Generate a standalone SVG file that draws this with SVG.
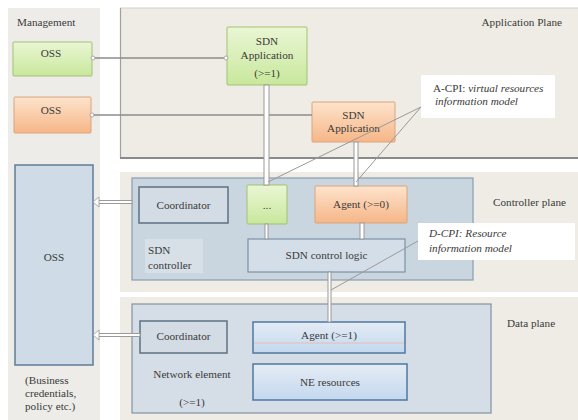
<svg xmlns="http://www.w3.org/2000/svg" width="578" height="420" viewBox="0 0 578 420">
  <style>
    text { font-family: "Liberation Serif", "Times New Roman", serif; font-size: 11.2px; fill: #3a3a3a; }
    .mid { text-anchor: middle; }
    .it { font-style: italic; }
    .panel { fill: #eeece5; }
    .green { fill: url(#gGreen); stroke: #a3c172; stroke-width: 1; }
    .orange { fill: url(#gOrange); stroke: #dca47a; stroke-width: 1; }
    .blue { fill: url(#gBlue); stroke: #4f78a0; stroke-width: 1.5; }
    .grey { fill: #d3dce4; stroke: #5d7284; stroke-width: 1.5; }
    .container { fill: #c9d5df; stroke: #8a9dae; stroke-width: 1.2; }
    .note { fill: #ffffff; }
    .wire { stroke: #8c8c8c; stroke-width: 1.5; fill: none; }
    .pipe { fill: #ffffff; stroke: #9a9a9a; stroke-width: 1; }
    .leader { stroke: #9a9a9a; stroke-width: 1; fill: none; }
    .end { fill: #ffffff; stroke: #9a9a9a; stroke-width: 0.8; }
  </style>
  <defs>
    <linearGradient id="gGreen" x1="0" y1="0" x2="0" y2="1">
      <stop offset="0" stop-color="#eaf6d4"/>
      <stop offset="1" stop-color="#c8e89c"/>
    </linearGradient>
    <linearGradient id="gOrange" x1="0" y1="0" x2="0" y2="1">
      <stop offset="0" stop-color="#fde3cc"/>
      <stop offset="1" stop-color="#f6b688"/>
    </linearGradient>
    <linearGradient id="gBlue" x1="0" y1="0" x2="0" y2="1">
      <stop offset="0" stop-color="#e4ecf5"/>
      <stop offset="1" stop-color="#c4d8ee"/>
    </linearGradient>
  </defs>

  <rect width="578" height="420" fill="#ffffff"/>

  <!-- planes -->
  <g id="management-plane">
    <rect x="8" y="8" width="92" height="412" fill="#edece8"/>
    <text x="17" y="26">Management</text>
  </g>
  <g id="application-plane">
    <rect class="panel" x="120" y="8" width="458" height="150"/>
    <line x1="120" y1="8" x2="578" y2="8" stroke="#d0cec6" stroke-width="1"/>
    <line x1="120.5" y1="8" x2="120.5" y2="158" stroke="#a0a0a0" stroke-width="1.2"/>
    <line x1="120" y1="158" x2="578" y2="158" stroke="#8a8a8a" stroke-width="1.8"/>
    <text x="562" y="26" text-anchor="end">Application Plane</text>
  </g>
  <g id="controller-plane">
    <rect class="panel" x="120" y="172" width="458" height="120"/>
    <text x="566" y="206" text-anchor="end">Controller plane</text>
  </g>
  <g id="data-plane">
    <rect class="panel" x="120" y="297" width="458" height="123"/>
    <text x="507" y="327">Data plane</text>
  </g>

  <!-- management -->
  <g id="oss-green">
    <rect class="green" x="13" y="42" width="79" height="34" rx="1"/>
    <text class="mid" x="51" y="57">OSS</text>
  </g>
  <g id="oss-orange">
    <rect class="orange" x="14" y="97" width="77" height="36" rx="1"/>
    <text class="mid" x="51" y="114">OSS</text>
  </g>
  <g id="oss-main">
    <rect x="15" y="165" width="78" height="200" fill="#cfdbe6" stroke="#5f7d97" stroke-width="1.5"/>
    <text class="mid" x="54" y="261">OSS</text>
  </g>
  <g id="business-note">
    <text x="25" y="384">(Business</text>
    <text x="25" y="397">credentials,</text>
    <text x="25" y="410">policy etc.)</text>
  </g>

  <!-- application plane -->
  <g id="sdn-app-green">
    <rect class="green" x="227" y="27" width="80" height="58" rx="1"/>
    <text class="mid" x="267" y="45">SDN</text>
    <text class="mid" x="267" y="59">Application</text>
    <text class="mid" x="267" y="77">(&gt;=1)</text>
  </g>
  <g id="sdn-app-orange">
    <rect class="orange" x="312" y="102" width="83" height="40" rx="1"/>
    <text class="mid" x="353.5" y="119">SDN</text>
    <text class="mid" x="353.5" y="132">Application</text>
  </g>
  <g id="a-cpi-note">
    <rect class="note" x="421" y="75" width="134" height="43"/>
    <text x="433" y="92">A-CPI: <tspan class="it">virtual resources</tspan></text>
    <text class="it" x="435" y="105">information model</text>
  </g>

  <!-- controller plane -->
  <g id="sdn-controller">
    <rect class="container" x="132" y="178" width="341" height="102"/>
    <rect x="145" y="239" width="58" height="34" fill="#d7dfe7"/>
    <text x="148" y="254">SDN</text>
    <text x="148" y="269">controller</text>
  </g>
  <g id="coordinator-ctrl">
    <rect class="grey" x="139" y="187" width="89" height="36"/>
    <text class="mid" x="183.5" y="209">Coordinator</text>
  </g>
  <g id="agent-green">
    <rect class="green" x="247" y="185" width="40" height="39" rx="1"/>
    <text class="mid" x="267" y="209">...</text>
  </g>
  <g id="agent-orange">
    <rect class="orange" x="315" y="186" width="92" height="37" rx="1"/>
    <text class="mid" x="361" y="208">Agent (&gt;=0)</text>
  </g>
  <g id="sdn-control-logic">
    <rect x="248" y="239" width="157" height="33" fill="#d4dee8" stroke="#7a92a8" stroke-width="1.2"/>
    <text class="mid" x="326.5" y="259">SDN control logic</text>
  </g>
  <g id="d-cpi-note">
    <rect class="note" x="418" y="223" width="157" height="37"/>
    <text class="it" x="429" y="237">D-CPI: Resource</text>
    <text class="it" x="429" y="252">information model</text>
  </g>

  <!-- data plane -->
  <g id="network-element">
    <rect x="132" y="304" width="359" height="109" fill="#d5dde6" stroke="#8393a3" stroke-width="1.2"/>
    <text class="mid" x="192" y="378">Network element</text>
    <text class="mid" x="192" y="406">(&gt;=1)</text>
  </g>
  <g id="coordinator-ne">
    <rect class="grey" x="140" y="321" width="87" height="32"/>
    <text class="mid" x="183.5" y="340">Coordinator</text>
  </g>
  <g id="agent-ne">
    <rect class="blue" x="253" y="322" width="152" height="31"/>
    <line x1="254" y1="343" x2="404" y2="343" stroke="#e9b6a6" stroke-width="0.8"/>
    <text class="mid" x="329" y="339">Agent (&gt;=1)</text>
  </g>
  <g id="ne-resources">
    <rect class="blue" x="253" y="364" width="154" height="36"/>
    <text class="mid" x="330" y="386">NE resources</text>
  </g>

  <!-- connectors -->
  <g id="connectors">
    <line class="wire" x1="92" y1="58" x2="227" y2="58"/>
    <circle class="end" cx="93" cy="58" r="2"/>
    <circle class="end" cx="226" cy="58" r="2"/>
    <line class="wire" x1="91" y1="115" x2="312" y2="115"/>
    <circle class="end" cx="92" cy="115" r="2"/>

    <rect class="pipe" x="264" y="85" width="5" height="100"/>
    <rect class="pipe" x="354" y="142" width="4" height="44"/>
    <rect class="pipe" x="265" y="224" width="3" height="15"/>
    <rect class="pipe" x="360" y="223" width="4" height="16"/>
    <rect class="pipe" x="328" y="272" width="3" height="50"/>

    <rect class="pipe" x="97" y="200.5" width="35" height="3"/>
    <path class="end" d="M93,202 L99,197 L99,207 Z"/>
    <rect class="pipe" x="97" y="333.5" width="43" height="3"/>
    <path class="end" d="M93,335 L99,330 L99,340 Z"/>

    <line class="leader" x1="421" y1="107" x2="268" y2="182"/>
    <line class="leader" x1="421" y1="107" x2="356" y2="182"/>
    <line class="leader" x1="418" y1="241" x2="331" y2="290"/>
  </g>
</svg>
